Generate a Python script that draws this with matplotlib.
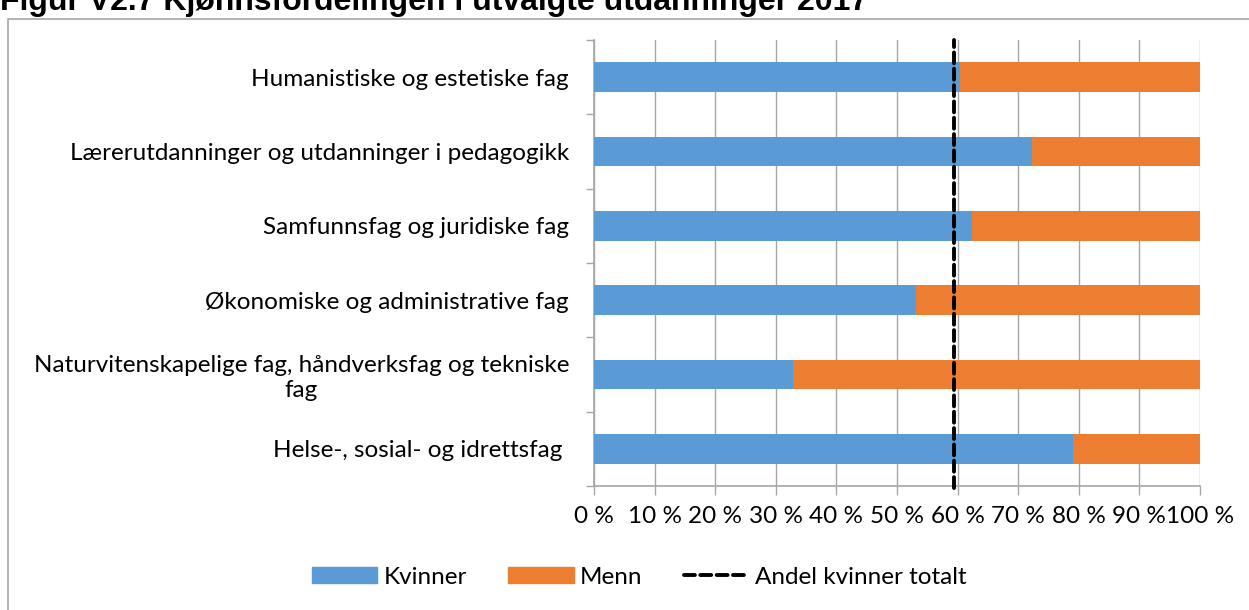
import matplotlib.pyplot as plt
import matplotlib.patches as mpatches
import numpy as np

# Data, top to bottom
categories = ['Humanistiske og estetiske fag',
              'Lærerutdanninger og utdanninger i pedagogikk',
              'Samfunnsfag og juridiske fag',
              'Økonomiske og administrative fag',
              'Naturvitenskapelige fag, håndverksfag og tekniske\nfag',
              'Helse-, sosial- og idrettsfag ']
kvinner = [60.4, 72.3, 62.4, 53.2, 32.9, 79.0]
menn = [100 - k for k in kvinner]
andel_totalt = 59.4
xticks = list(range(0, 101, 10))

plt.rcParams['font.family'] = ['Lato', 'DejaVu Sans']
FS = 17.5
dash = (0, (2.8, 1.4))

fig = plt.figure(figsize=(12.49, 6.10), dpi=100)
ax = fig.add_axes([594 / 1249, 1 - 486 / 610, 606 / 1249, 446 / 610])

y = np.arange(len(categories))[::-1]
ax.barh(y, kvinner, height=0.4, color='#5b9bd5', label='Kvinner', zorder=3)
ax.barh(y, menn, left=kvinner, height=0.4, color='#ed7d31', label='Menn', zorder=3)
ax.axvline(andel_totalt, color='black', lw=2.8, ls=dash, dash_capstyle='round',
           zorder=4, ymin=-0.005, ymax=1, clip_on=False)

ax.set_xlim(0, 100)
ax.set_ylim(-0.5, len(categories) - 0.5)
ax.set_xticks(xticks)
ax.set_xticklabels([f'{t} %' for t in xticks], fontsize=FS)
ax.set_yticks(y)
ax.set_yticklabels(categories, fontsize=FS, multialignment='center')
ax.set_yticks(np.arange(-0.5, len(categories), 1), minor=True)
ax.tick_params(axis='y', which='major', length=0, pad=18)
ax.tick_params(axis='y', which='minor', length=6, color='#a6a6a6', width=1)
ax.tick_params(axis='x', length=6.5, color='#a6a6a6', width=1, pad=8)
ax.grid(axis='x', color='#a6a6a6', lw=1, zorder=0)

for s in ['top', 'right']:
    ax.spines[s].set_visible(False)
for s in ['left', 'bottom']:
    ax.spines[s].set_color('#a6a6a6')
    ax.spines[s].set_linewidth(1.2)

handles = [mpatches.Patch(color='#5b9bd5', label='Kvinner'),
           mpatches.Patch(color='#ed7d31', label='Menn'),
           plt.Line2D([], [], color='black', lw=2.8, ls=dash, dash_capstyle='round',
                      label='Andel kvinner totalt')]
fig.legend(handles=handles, loc='center', bbox_to_anchor=(0.512, 1 - 577 / 610),
           ncol=3, frameon=False, fontsize=FS, handlelength=2.7, handleheight=0.6,
           columnspacing=1.7, handletextpad=0.25)

# outer chart border
fig.add_artist(plt.Rectangle((8 / 1249, -0.01), 1.1, 1 - 19 / 610 + 0.01,
                             transform=fig.transFigure, fill=False,
                             edgecolor='#a6a6a6', lw=1.2))

# title, clipped by top edge as in the source
fig.text(0.0, 1 - 10 / 610, 'Figur V2.7 Kjønnsfordelingen i utvalgte utdanninger 2017',
         fontsize=23, fontweight='bold', family=['Liberation Sans', 'DejaVu Sans'],
         va='baseline', ha='left')

fig.savefig('out.png', dpi=100)
